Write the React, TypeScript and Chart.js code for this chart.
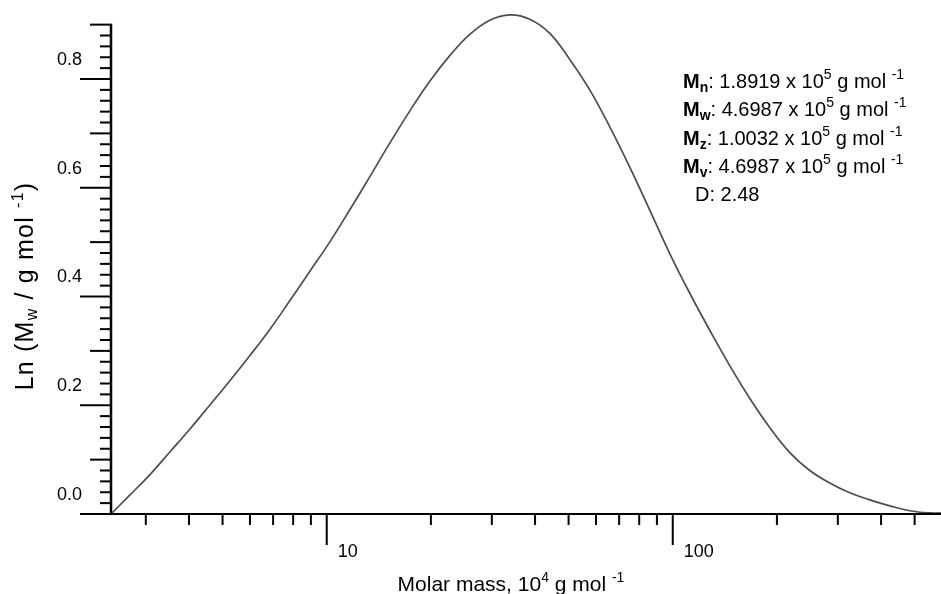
import React, { useEffect, useRef } from 'react';
import { Chart, registerables } from 'chart.js';

Chart.register(...registerables);

// Molar mass (10^4 g/mol) and distribution values
const MOLAR_MASS = [
  2.38, 2.70, 3.08, 3.52, 4.02, 4.59, 5.25, 5.99, 6.84, 7.82, 8.93, 10.2,
  11.65, 13.31, 15.21, 17.37, 19.85, 22.68, 25.91, 29.59, 33.81, 38.62, 44.12,
  50.4, 57.56, 65.77, 75.12, 85.81, 98.02, 112.0, 127.9, 146.1, 166.9, 190.7,
  217.9, 248.9, 284.3, 324.8, 371.0, 423.8, 484.2, 553.1, 595.2,
];
const LN_MW = [
  0.0, 0.035, 0.072, 0.114, 0.156, 0.2, 0.245, 0.291, 0.339, 0.392, 0.446, 0.5,
  0.559, 0.62, 0.682, 0.741, 0.796, 0.843, 0.882, 0.908, 0.918, 0.91, 0.884,
  0.836, 0.78, 0.712, 0.638, 0.559, 0.479, 0.406, 0.338, 0.273, 0.213, 0.159,
  0.113, 0.08, 0.057, 0.039, 0.026, 0.015, 0.006, 0.002, 0.002,
];

const Y_LABEL_VALUES = [0, 0.2, 0.4, 0.6, 0.8];
const Y_TICK_LABELS = ['0.0', '0.2', '0.4', '0.6', '0.8'];
const X_MAJOR_TICKS = [10, 100];
const X_MAJOR_LABELS = ['10', '100'];
const X_MINOR_TICKS = [3, 4, 5, 6, 7, 8, 9, 20, 30, 40, 50, 60, 70, 80, 90, 200, 300, 400, 500];

const STAT_SYMBOLS = ['n', 'w', 'z', 'v'];
const STAT_VALUES = ['1.8919', '4.6987', '1.0032', '4.6987'];
const STAT_EXPONENTS = ['5', '5', '5', '5'];
const DISPERSITY = '2.48';

const FAM = '"Liberation Sans", Arial, Helvetica, sans-serif';

type Seg = { t: string; size: number; bold?: boolean; dy?: number };

function drawRich(
  ctx: CanvasRenderingContext2D,
  segs: Seg[],
  x: number,
  y: number,
  align: 'left' | 'center',
  spacing = 0,
) {
  (ctx as any).letterSpacing = `${spacing}px`;
  const widths: number[] = [];
  let total = 0;
  for (const s of segs) {
    ctx.font = `${s.bold ? 'bold ' : ''}${s.size}px ${FAM}`;
    const w = ctx.measureText(s.t).width;
    widths.push(w);
    total += w;
  }
  let cx = align === 'center' ? x - total / 2 : x;
  ctx.textAlign = 'left';
  ctx.textBaseline = 'alphabetic';
  segs.forEach((s, i) => {
    ctx.font = `${s.bold ? 'bold ' : ''}${s.size}px ${FAM}`;
    ctx.fillText(s.t, cx, y + (s.dy || 0));
    cx += widths[i];
  });
  (ctx as any).letterSpacing = '0px';
}

const axesPlugin = {
  id: 'igorAxes',
  afterDatasetsDraw(chart: any) {
    const ctx: CanvasRenderingContext2D = chart.ctx;
    const xs = chart.scales.x;
    const ys = chart.scales.y;
    const axisX = xs.left;
    const axisY = ys.getPixelForValue(0);
    ctx.save();
    ctx.strokeStyle = '#000';
    ctx.fillStyle = '#000';
    ctx.lineCap = 'butt';

    // Y axis line
    ctx.lineWidth = 2.5;
    ctx.beginPath();
    ctx.moveTo(axisX, axisY + 1);
    ctx.lineTo(axisX, ys.getPixelForValue(0.9) - 1);
    ctx.stroke();

    // Y ticks
    ctx.lineWidth = 2;
    for (let i = 0; i <= 45; i++) {
      const v = i * 0.02;
      const py = ys.getPixelForValue(v);
      const len = i % 10 === 0 ? 31 : i % 5 === 0 ? 21 : 11;
      ctx.beginPath();
      ctx.moveTo(axisX, py);
      ctx.lineTo(axisX - len, py);
      ctx.stroke();
    }

    // X axis line
    ctx.lineWidth = 2;
    ctx.beginPath();
    ctx.moveTo(axisX, axisY);
    ctx.lineTo(xs.right, axisY);
    ctx.stroke();

    for (const v of X_MINOR_TICKS) {
      const px = xs.getPixelForValue(v);
      ctx.beginPath();
      ctx.moveTo(px, axisY);
      ctx.lineTo(px, axisY + 11);
      ctx.stroke();
    }
    for (const v of X_MAJOR_TICKS) {
      const px = xs.getPixelForValue(v);
      ctx.beginPath();
      ctx.moveTo(px, axisY);
      ctx.lineTo(px, axisY + 31);
      ctx.stroke();
    }

    // Tick labels
    ctx.font = `18px ${FAM}`;
    ctx.textAlign = 'right';
    ctx.textBaseline = 'middle';
    Y_LABEL_VALUES.forEach((v, i) => {
      ctx.fillText(Y_TICK_LABELS[i], 82, ys.getPixelForValue(v) - 19);
    });
    ctx.textAlign = 'left';
    ctx.textBaseline = 'alphabetic';
    X_MAJOR_TICKS.forEach((v, i) => {
      ctx.fillText(X_MAJOR_LABELS[i], xs.getPixelForValue(v) + 11, axisY + 43);
    });

    // X title
    drawRich(ctx, [
      { t: 'Molar mass, 10', size: 21 },
      { t: '4', size: 14, dy: -9 },
      { t: ' g mol ', size: 21 },
      { t: '-1', size: 14, dy: -9 },
    ], 511, 591, 'center');

    // Y title
    ctx.save();
    ctx.translate(33, 286);
    ctx.rotate(-Math.PI / 2);
    drawRich(ctx, [
      { t: 'Ln (M', size: 25 },
      { t: 'w', size: 16, dy: 4 },
      { t: ' / g mol ', size: 25 },
      { t: '-1', size: 16, dy: -10 },
      { t: ')', size: 25 },
    ], 0, 0, 'center', 1.2);
    ctx.restore();

    // Stats annotation
    STAT_SYMBOLS.forEach((sym, i) => {
      drawRich(ctx, [
        { t: 'M', size: 20, bold: true },
        { t: sym, size: 14, bold: true, dy: 4 },
        { t: `: ${STAT_VALUES[i]} x 10`, size: 20 },
        { t: STAT_EXPONENTS[i], size: 14, dy: -9 },
        { t: ' g mol ', size: 20 },
        { t: '-1', size: 14, dy: -9 },
      ], 683, 88 + i * 28.3, 'left');
    });
    drawRich(ctx, [{ t: `D: ${DISPERSITY}`, size: 20 }], 695, 88 + 4 * 28.3, 'left');

    ctx.restore();
  },
};

export default function App() {
  const ref = useRef<HTMLCanvasElement>(null);
  useEffect(() => {
    if (!ref.current) return;
    const chart = new Chart(ref.current, {
      type: 'line',
      data: {
        datasets: [
          {
            data: MOLAR_MASS.map((m, i) => ({ x: m, y: LN_MW[i] })),
            borderColor: '#4d4d4d',
            borderWidth: 1.7,
            pointRadius: 0,
            fill: false,
            tension: 0.4,
            clip: false as any,
          },
        ],
      },
      options: {
        animation: false,
        responsive: false,
        devicePixelRatio: 1,
        layout: { padding: { left: 111, right: 0, top: 8, bottom: 80 } },
        plugins: { legend: { display: false }, tooltip: { enabled: false } },
        scales: {
          x: { type: 'logarithmic', min: 2.38, max: 596, display: false },
          y: { type: 'linear', min: 0, max: 0.9306, display: false },
        },
      },
      plugins: [axesPlugin],
    });
    return () => chart.destroy();
  }, []);
  return (
    <div style={{ position: 'absolute', left: 0, top: 0, width: 941, height: 594, background: '#fff' }}>
      <canvas ref={ref} width={941} height={594} />
    </div>
  );
}
